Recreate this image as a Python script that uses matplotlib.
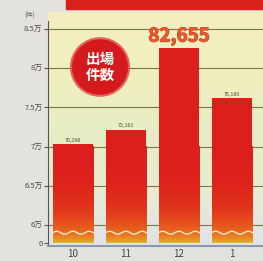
import numpy as np
import matplotlib.pyplot as plt
from matplotlib.colors import LinearSegmentedColormap
import matplotlib.patheffects as pe

plt.rcParams['font.family'] = ['Noto Sans CJK JP', 'DejaVu Sans']

# datos
months = ['10', '11', '12', '1']
counts = [70298, 72161, 82655, 76180]
count_labels = ['70,298', '72,161', '82,655', '76,180']
tick_vals = [60000, 65000, 70000, 75000, 80000, 85000]
tick_text = ['6万', '6.5万', '7万', '7.5万', '8万', '8.5万']

# eje cortado: el 0 se dibuja un poco por debajo de 6万
zero_pos = 57700
ymin, ymax = 57300, 87200

fig = plt.figure(figsize=(2.63, 2.61), dpi=100)
fig.patch.set_facecolor('#e4e2dd')
ax = fig.add_axes([48 / 263, 15 / 261, 215 / 263, 234 / 261])
ax.set_xlim(-0.47, 3.585)
ax.set_ylim(ymin, ymax)

# fondo degradado amarillo-verde
bg = LinearSegmentedColormap.from_list('bg', ['#dfe3ea', '#e8ecd0', '#e8edc4', '#f1efbf', '#f3eec0'])
grad = np.linspace(0, 1, 256).reshape(-1, 1)
ax.imshow(grad, cmap=bg, aspect='auto', origin='lower',
          extent=[-0.47, 3.585, ymin, ymax], zorder=0)

for v in tick_vals:
    ax.axhline(v, color='#77784a', lw=0.8, zorder=1)

# barras con degradado
bar_cmap = LinearSegmentedColormap.from_list(
    'bar', ['#d8c23a', '#e89a24', '#e8641e', '#e23a1c', '#de221c', '#dc1e1c'])
x = np.arange(len(months))
bars = ax.bar(x, [c - zero_pos for c in counts], bottom=zero_pos, width=0.77,
              color='none', edgecolor='none', zorder=2)
for b, c in zip(bars, counts):
    g = np.linspace(0, 1, 256).reshape(-1, 1) ** 0.45
    im = ax.imshow(g, cmap=bar_cmap, aspect='auto', origin='lower',
                   extent=[b.get_x(), b.get_x() + b.get_width(), zero_pos, 70000],
                   zorder=2)
    im.set_clip_path(b)
    ax.bar(b.get_x() + b.get_width() / 2, max(c - 70000, 0), bottom=70000,
           width=b.get_width(), color='#dc1e1c', zorder=2)
    # linea ondulada del corte
    wx = np.linspace(b.get_x(), b.get_x() + b.get_width(), 60)
    wy = 59000 + 180 * np.sin((wx - b.get_x()) / b.get_width() * 2 * np.pi * 2.5)
    ax.plot(wx, wy, color='#f6e6c8', lw=1.0, zorder=3)

for xi, c, lab in zip(x, counts, count_labels):
    if lab != '82,655':
        ax.text(xi, c + 200, lab, ha='center', va='bottom', fontsize=3.8,
                color='#4a4a30', zorder=4)

ax.text(2, 84100, '82,655', ha='center', va='center', fontsize=13.5,
        fontweight='bold', color='#e85a2c', zorder=5,
        path_effects=[pe.withStroke(linewidth=0.8, foreground='#b8482a')])

# circulo rojo
fig.patches.append(plt.Circle((100 / 263, 1 - 67 / 261), 29 / 263,
                              transform=fig.transFigure, color='#d41a1c',
                              ec='#e8605a', lw=1.5, zorder=5))
fig.text(100 / 263, 1 - 67 / 261, '出場\n件数', ha='center', va='center',
         fontsize=10.5, fontweight='bold', color='white', linespacing=1.05,
         zorder=6)

ax.set_yticks([zero_pos] + tick_vals)
ax.set_yticklabels(['0'] + tick_text, fontsize=5.5, color='#4a4a4a')
ax.set_xticks(x)
ax.set_xticklabels(months, fontsize=7, color='#444444')
ax.tick_params(axis='y', length=3, width=0.8, color='#555555', pad=1, direction='out')
ax.tick_params(axis='x', length=0, pad=2)
for s in ['top', 'right']:
    ax.spines[s].set_visible(False)
ax.spines['left'].set_color('#555555')
ax.spines['left'].set_bounds(zero_pos - 300, 86000)
ax.spines['bottom'].set_color('#8899aa')
ax.spines['bottom'].set_linewidth(1.5)

fig.text(30 / 263, 1 - 16 / 261, '(件)', fontsize=4.5, color='#555555',
         ha='center', va='center')

# franja roja del titulo
fig.patches.append(plt.Rectangle((66 / 263, 1 - 9 / 261), 1, 9 / 261,
                                 transform=fig.transFigure, color='#d8201c'))

fig.savefig('out.png', dpi=100)
